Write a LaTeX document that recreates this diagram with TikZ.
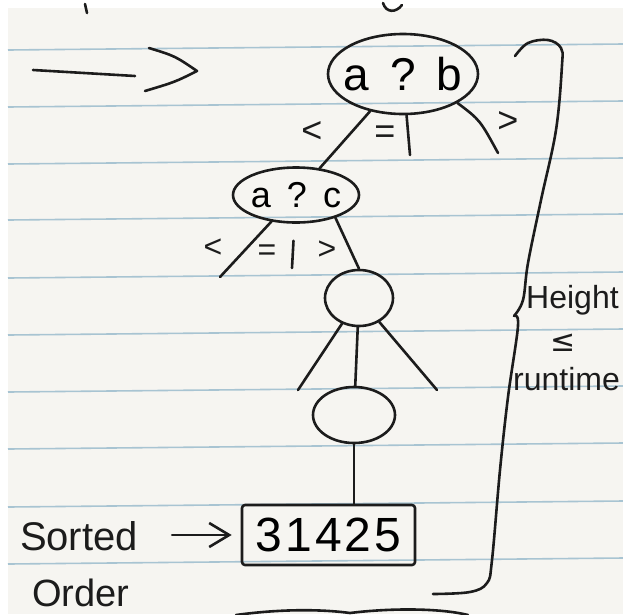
\documentclass[tikz,border=0pt]{standalone}
\usepackage{fontspec}
\setmainfont{Liberation Sans}
\newfontfamily\symfont{DejaVu Sans}
\usetikzlibrary{shapes.geometric,arrows.meta}
\definecolor{paper}{RGB}{246,245,241}
\definecolor{ruleblue}{RGB}{168,196,210}
\definecolor{ink}{RGB}{28,28,28}
\tikzset{
  pen/.style={draw=ink, line width=2.6pt, line cap=round, line join=round},
  treenode/.style={pen, ellipse, inner sep=0pt},
  cmp/.style={text=ink, inner sep=0pt, font=\fontsize{36}{36}\selectfont},
  cmpsmall/.style={text=ink, inner sep=0pt, font=\fontsize{32}{32}\selectfont},
  hand/.style={text=ink, inner sep=0pt},
  paperline/.style={draw=ruleblue, line width=1.6pt}
}
\begin{document}
\begin{tikzpicture}[x=1pt,y=-1pt]
\useasboundingbox (0,0) rectangle (623,614);
% paper
\fill[white] (0,0) rectangle (623,614);
\fill[paper] (8,8) rectangle (623,614);
\foreach \yy in {48,105,162,218,276,333,390,447,505,562}
  \draw[paperline] (8,\yy+2) -- (623,\yy-4);
% fragments of writing cut off at the edges
\draw[pen] (85,4) -- (87,13);
\draw[pen] (383,3) .. controls (386,13) and (396,13) .. (402,5);
\draw[pen] (236,615) .. controls (280,609) and (320,609) .. (350,613) .. controls (390,608) and (440,608) .. (468,615);

% top-left arrow
\coordinate (arrA) at (33,70);
\coordinate (arrB) at (135,76);
\coordinate (chevA) at (149,48);
\coordinate (chevB) at (197,71);
\coordinate (chevC) at (145,91);
\draw[pen] (arrA) -- (arrB);
\draw[pen] (chevA) .. controls (175,56) .. (chevB) .. controls (175,82) .. (chevC);

% tree nodes
\node[treenode, minimum width=150pt, minimum height=80pt,
      font=\fontsize{46}{46}\selectfont] (ab) at (403,74)
      {\makebox[0pt]{a\hspace{0.45em}?\hspace{0.45em}b}};
\node[treenode, minimum width=126pt, minimum height=55pt,
      font=\fontsize{36}{36}\selectfont] (ac) at (296,195)
      {\makebox[0pt]{a\hspace{0.45em}?\hspace{0.45em}c}};
\node[treenode, minimum width=68pt, minimum height=56pt] (n1) at (359,298) {};
\node[treenode, minimum width=82pt, minimum height=56pt] (n2) at (354,415) {};
\node[pen, rectangle, rounded corners=3pt, minimum width=173pt, minimum height=60pt,
      inner sep=0pt, font=\fontsize{48}{48}\selectfont] (box) at (328.5,535)
      {3\kern3pt1\kern3pt4\kern3pt2\kern3pt5};

% free ends
\coordinate (abEq) at (410,155);
\coordinate (abGt) at (498,153);
\coordinate (acLt) at (220,277);
\coordinate (acEq) at (292,268);
\coordinate (n1L) at (298,390);
\coordinate (n1R) at (437,390);

% connectors
\draw[pen] (ab) -- (ac);
\draw[pen] (ab) -- (abEq);
\draw[pen] (ab.-28) .. controls (480,120) .. (abGt);
\draw[pen] (ac) -- (acLt);
\draw[pen, shorten <=17pt] (ac) -- (acEq);
\draw[pen] (ac.-30) -- (n1.north);
\draw[pen] (n1) -- (n1L);
\draw[pen] (n1) -- (n2);
\draw[pen] (n1) -- (n1R);
\draw[pen] (n2.south) -- (n2.south |- box.north);

% comparison labels
\node[cmp] (l1) at (312,132) {<};
\node[cmp] (e1) at (385,135) {=};
\node[cmp] (g1) at (508,122) {>};
\node[cmpsmall] (l2) at (213,248) {<};
\node[cmpsmall] (e2) at (267,253) {=};
\node[cmpsmall] (g2) at (327,250) {>};

% sorted order
\node[hand, font=\fontsize{40}{40}\selectfont, anchor=base] (sorted) at (79,550) {Sorted};
\node[hand, font=\fontsize{38}{38}\selectfont, anchor=base] (order) at (81,606) {Order};
\draw[pen, -{Straight Barb[length=20pt,width=24pt]}] ([xshift=34pt]sorted.east |- box.west) -- ([xshift=-9pt]box.west);

% brace
\draw[pen] plot[smooth, tension=0.6] coordinates
  {(515,56) (528,43) (548,40) (561,48) (562,65) (556,130) (541,200) (528,263) (523,300) (514,316)};
\draw[pen] plot[smooth, tension=0.6] coordinates
  {(514,316) (518,326) (508,397) (500,470) (492,560) (487,583) (470,592) (433,594)};

% height <= runtime
\node[hand, font=\fontsize{32}{32}\selectfont, anchor=base west] (height) at (526,308) {Height};
\node[hand, font=\fontsize{30}{30}\symfont] (leq) at (563,343) {≤};
\node[hand, font=\fontsize{32}{32}\selectfont, anchor=base west] (runtime) at (513,390) {runtime};
\end{tikzpicture}
\end{document}
